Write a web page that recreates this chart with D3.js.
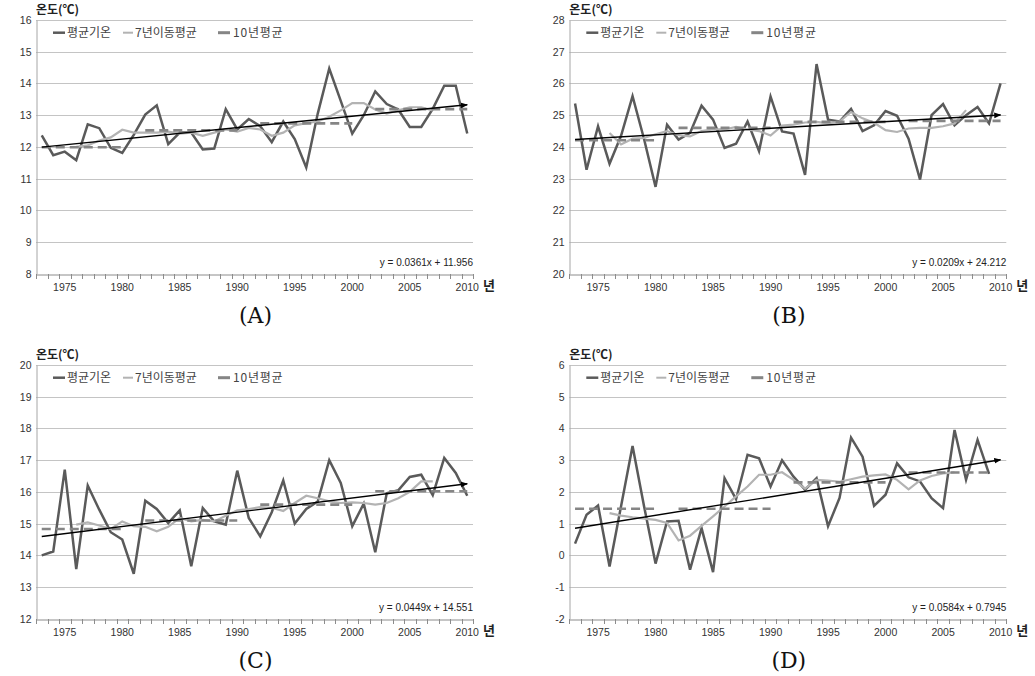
<!DOCTYPE html>
<html><head><meta charset="utf-8">
<script src="https://cdn.jsdelivr.net/npm/d3@7"></script>
<style>body{margin:0;background:#fff}svg{display:block}</style>
</head><body>
<svg id="chart" width="1035" height="676"></svg>
<script>
// ---------- DATA ----------
const years = [1973,1974,1975,1976,1977,1978,1979,1980,1981,1982,1983,1984,1985,1986,1987,1988,1989,1990,
  1991,1992,1993,1994,1995,1996,1997,1998,1999,2000,2001,2002,2003,2004,2005,2006,2007,2008,2009,2010];
const tickYears = [1975,1980,1985,1990,1995,2000,2005,2010];
const legendLabels = ["평균기온","7년이동평균","10년평균"];
const panelLabels = ["(A)","(B)","(C)","(D)"];

const yTicksA = [8,9,10,11,12,13,14,15,16];
const yTicksB = [20,21,22,23,24,25,26,27,28];
const yTicksC = [12,13,14,15,16,17,18,19,20];
const yTicksD = [-2,-1,0,1,2,3,4,5,6];

// annual mean temperature (평균기온)
const tempA = [12.36,11.74,11.85,11.58,12.71,12.59,11.97,11.81,12.38,13.02,13.31,12.09,12.45,12.45,11.92,11.95,13.19,12.55,
  12.88,12.65,12.15,12.80,12.25,11.35,13.05,14.47,13.45,12.42,13.00,13.75,13.35,13.18,12.63,12.63,13.20,13.93,13.93,12.42];
const tempB = [25.37,23.28,24.65,23.47,24.35,25.60,24.25,22.74,24.70,24.23,24.44,25.30,24.86,23.97,24.10,24.80,23.87,25.59,
  24.49,24.42,23.12,26.61,24.86,24.80,25.20,24.50,24.68,25.13,24.98,24.26,22.97,25.00,25.35,24.68,25.00,25.26,24.74,26.00];
const tempC = [14.00,14.12,16.70,13.57,16.20,15.44,14.73,14.50,13.42,15.72,15.46,15.02,15.42,13.66,15.49,15.07,14.97,16.67,
  15.18,14.60,15.36,16.36,15.00,15.46,15.70,17.00,16.28,14.92,15.63,14.10,15.96,16.05,16.47,16.54,15.90,17.07,16.60,15.88];
const tempD = [0.37,1.28,1.57,-0.35,1.55,3.45,1.55,-0.26,1.07,1.09,-0.45,0.86,-0.53,2.43,1.77,3.17,3.06,2.17,
  3.00,2.48,2.07,2.43,0.92,1.81,3.71,3.11,1.56,1.91,2.90,2.46,2.33,1.80,1.49,3.95,2.38,3.64,2.57];

// 7-year moving average (7년이동평균), first value at 1976
const maStartYear = 1976;
const ma7A = [12.00,12.05,12.20,12.30,12.54,12.45,12.45,12.45,12.48,12.42,12.45,12.35,12.45,12.55,12.48,12.60,
  12.55,12.35,12.45,12.68,12.75,12.80,12.95,13.15,13.38,13.38,13.18,13.05,13.15,13.25,13.25,13.15];
const ma7B = [24.44,24.08,24.26,24.28,24.40,24.50,24.37,24.33,24.50,24.55,24.55,24.63,24.55,24.50,24.36,24.67,
  24.70,24.77,24.79,24.74,24.80,25.10,24.90,24.76,24.53,24.47,24.58,24.60,24.60,24.65,24.74,25.16];
const ma7C = [14.97,15.04,14.94,14.83,15.07,14.92,14.90,14.76,14.90,15.18,15.07,15.12,15.07,15.25,15.42,15.46,
  15.52,15.50,15.40,15.65,15.88,15.80,15.70,15.65,15.67,15.65,15.60,15.65,15.80,16.00,16.33,16.33];
const ma7D = [1.33,1.25,1.20,1.16,1.12,1.02,0.47,0.62,0.93,1.23,1.54,1.86,2.17,2.54,2.54,2.62,
  2.38,2.10,2.38,2.36,2.32,2.40,2.48,2.52,2.55,2.38,2.08,2.36,2.50,2.58,2.62];

// 10-year mean (10년평균) segments
const decadeStart = [1973,1982,1992,2002];
const decadeEndABC = [1980,1990,2000,2010];
const decadeEndD = [1980,1990,2000,2009];
const dec10A = [11.99,12.52,12.74,13.19];
const dec10B = [24.21,24.60,24.79,24.82];
const dec10C = [14.83,15.10,15.60,16.02];
const dec10D = [1.47,1.47,2.30,2.61];

// linear trend y = slope * x + intercept (x = 1 for 1973)
const trendSlope = [0.0361,0.0209,0.0449,0.0584];
const trendIntercept = [11.956,24.212,14.551,0.7945];
const trendLabels = ["y = 0.0361x + 11.956","y = 0.0209x + 24.212","y = 0.0449x + 14.551","y = 0.0584x + 0.7945"];

// ---------- DRAW ----------
const svg = d3.select("#chart");
const defs = svg.append("defs");
defs.append("marker").attr("id","arrow").attr("viewBox","0 0 10 10")
  .attr("refX",9).attr("refY",5).attr("markerWidth",5).attr("markerHeight",5)
  .attr("orient","auto").attr("markerUnits","strokeWidth")
  .append("path").attr("d","M0,1 L10,5 L0,9 z").attr("fill","#000");

const panels = [
  {temp:tempA, ma:ma7A, dec:dec10A, decEnd:decadeEndABC, yTicks:yTicksA},
  {temp:tempB, ma:ma7B, dec:dec10B, decEnd:decadeEndABC, yTicks:yTicksB},
  {temp:tempC, ma:ma7C, dec:dec10C, decEnd:decadeEndABC, yTicks:yTicksC},
  {temp:tempD, ma:ma7D, dec:dec10D, decEnd:decadeEndD, yTicks:yTicksD}
];
const layout = [{l:36,t:20},{l:569.3,t:20},{l:36,t:365},{l:569.3,t:365}];
const W = 437, H = 253.8;
const numFont = "'Liberation Sans', Arial, sans-serif";
const korFont = "'Noto Sans CJK KR', 'Noto Sans', sans-serif";
const COL_MAIN = "#5a5a5a", COL_MA = "#b3b3b3", COL_DEC = "#858585";

panels.forEach((p, k) => {
  const L = layout[k];
  const g = svg.append("g");
  const x = d3.scaleBand().domain(years).range([L.l, L.l + W]).paddingInner(0).paddingOuter(0);
  const cx = yr => x(yr) + x.bandwidth() / 2;
  const y = d3.scaleLinear().domain([p.yTicks[0], p.yTicks[p.yTicks.length - 1]]).range([L.t + H, L.t]);

  // gridlines
  g.append("g").selectAll("line").data(p.yTicks.slice(1)).join("line")
    .attr("x1", L.l).attr("x2", L.l + W)
    .attr("y1", d => Math.round(y(d)) + 0.5).attr("y2", d => Math.round(y(d)) + 0.5)
    .attr("stroke", "#c4c4c4").attr("stroke-width", 1);

  // y axis
  const ya = g.append("g").attr("transform", `translate(${Math.round(L.l) + 0.5},0)`)
    .call(d3.axisLeft(y).tickValues(p.yTicks).tickSize(0).tickPadding(5).tickFormat(d => String(d)));
  ya.select(".domain").attr("stroke", "#a6a6a6");
  ya.selectAll("text").attr("font-family", numFont).attr("font-size", "10.5px").attr("fill", "#333");

  // x axis
  const xa = g.append("g").attr("transform", `translate(0,${Math.round(L.t + H) + 0.5})`)
    .call(d3.axisBottom(x).tickValues(tickYears).tickSize(0).tickPadding(9));
  xa.select(".domain").attr("stroke", "#8c8c8c");
  xa.selectAll("text").attr("font-family", numFont).attr("font-size", "10.5px").attr("fill", "#333");
  // minor ticks at category boundaries
  const bounds = years.map(yr => x(yr)).concat([x.range()[1]]);
  g.append("g").selectAll("line").data(bounds).join("line")
    .attr("x1", d => Math.round(d) + 0.5).attr("x2", d => Math.round(d) + 0.5)
    .attr("y1", Math.round(L.t + H)).attr("y2", Math.round(L.t + H) + 5)
    .attr("stroke", "#8c8c8c").attr("stroke-width", 1);

  // 년 label
  g.append("text").attr("x", L.l + W + 10).attr("y", L.t + H + 16)
    .attr("font-family", korFont).attr("font-weight", "bold").attr("font-size", "13px")
    .attr("fill", "#222").text("년");

  // y title
  g.append("text").attr("x", L.l).attr("y", L.t - 6)
    .attr("font-family", korFont).attr("font-weight", "bold").attr("font-size", "12px")
    .attr("fill", "#222").text("온도(℃)");

  // main series
  const lineGen = d3.line().x(d => cx(d.yr)).y(d => y(d.v));
  const mainData = p.temp.map((v, i) => ({yr: years[i], v}));
  g.append("path").datum(mainData).attr("d", lineGen)
    .attr("fill", "none").attr("stroke", COL_MAIN).attr("stroke-width", 2.5).attr("stroke-linejoin", "miter");

  // 7-year moving average
  const si = years.indexOf(maStartYear);
  const maData = p.ma.map((v, i) => ({yr: years[si + i], v}));
  g.append("path").datum(maData).attr("d", lineGen)
    .attr("fill", "none").attr("stroke", COL_MA).attr("stroke-width", 2.2);

  // 10-year mean segments
  p.dec.forEach((v, i) => {
    g.append("line")
      .attr("x1", cx(decadeStart[i])).attr("x2", cx(p.decEnd[i]))
      .attr("y1", y(v)).attr("y2", y(v))
      .attr("stroke", COL_DEC).attr("stroke-width", 2.6).attr("stroke-dasharray", "9,5");
  });

  // trend line
  const n = years.length;
  const tData = [
    {yr: years[0], v: trendSlope[k] * 1 + trendIntercept[k]},
    {yr: years[n - 1], v: trendSlope[k] * n + trendIntercept[k]}
  ];
  g.append("path").datum(tData).attr("d", lineGen)
    .attr("fill", "none").attr("stroke", "#000").attr("stroke-width", 1.4)
    .attr("marker-end", "url(#arrow)");

  // trend equation
  g.append("text").attr("x", L.l + W).attr("y", L.t + H - 8).attr("text-anchor", "end")
    .attr("font-family", numFont).attr("font-size", "10px").attr("fill", "#222")
    .text(trendLabels[k]);

  // legend
  const ly = L.t + 12.7;
  const items = [
    {x0: 17, x1: 29, tx: 31, col: COL_MAIN, w: 2.5},
    {x0: 87, x1: 97, tx: 99, col: COL_MA, w: 2},
    {x0: 182, x1: 194, tx: 197, col: COL_DEC, w: 3}
  ];
  items.forEach((it, i) => {
    g.append("line").attr("x1", L.l + it.x0).attr("x2", L.l + it.x1)
      .attr("y1", ly).attr("y2", ly).attr("stroke", it.col).attr("stroke-width", it.w);
    g.append("text").attr("x", L.l + it.tx).attr("y", ly + 4.3)
      .attr("font-family", korFont).attr("font-size", "12px").attr("fill", "#444")
      .attr("letter-spacing", i === 2 ? "0.8px" : "0px")
      .text(legendLabels[i]);
  });

  // panel label
  g.append("text").attr("x", L.l + W / 2 + 1).attr("y", L.t + H + 49).attr("text-anchor", "middle")
    .attr("font-family", "'DejaVu Serif', 'Liberation Serif', serif").attr("font-size", "22px")
    .attr("fill", "#111").text(panelLabels[k]);
});
</script>
</body></html>
